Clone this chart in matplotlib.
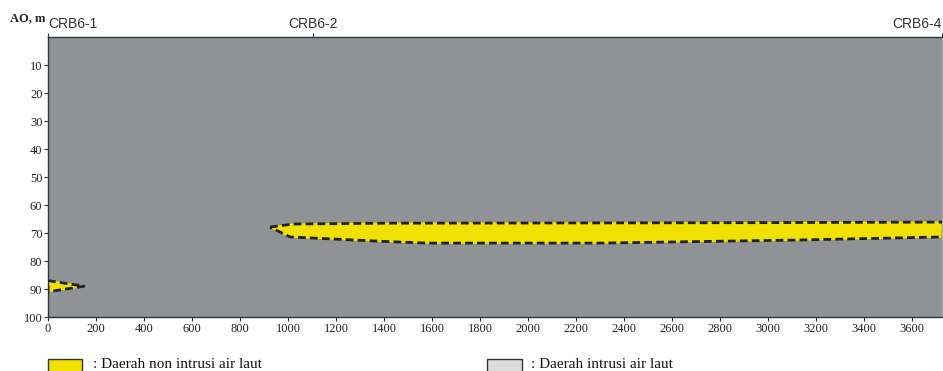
import numpy as np
import matplotlib.pyplot as plt
from matplotlib.patches import Rectangle

wells = ['CRB6-1', 'CRB6-2', 'CRB6-4']
well_x = [0, 1105, 3725]

# main lens (non intrusion zone), outline going over the top then back along bottom
lens_top_x = [925, 1020, 1400, 2300, 3000, 3730]
lens_top_y = [67.9, 66.8, 66.5, 66.4, 66.3, 66.1]
lens_bot_x = [3730, 3130, 2300, 1580, 1370, 1008]
lens_bot_y = [71.4, 72.5, 73.6, 73.6, 72.9, 71.4]

# small wedge at CRB6-1
wedge_x = [0, 150, 0]
wedge_y = [87.0, 89.0, 91.0]

xticks = np.arange(0, 3601, 200)
yticks = np.arange(10, 101, 10)

legend_labels = [': Daerah non intrusi air laut', ': Daerah intrusi air laut']

gray = '#909396'
yellow = '#f0e100'

fig = plt.figure(figsize=(9.43, 3.71), dpi=100)
ax = fig.add_axes([48/943, 1-317/371, 894/943, 280/371])
ax.set_facecolor(gray)

lx = lens_top_x + lens_bot_x + [lens_top_x[0]]
ly = lens_top_y + lens_bot_y + [lens_top_y[0]]
ax.fill(lx, ly, color=yellow, zorder=2)
ax.plot(lx, ly, color='#222222', lw=2, ls=(0, (2.8, 1.5)), zorder=3)

wx = wedge_x + [wedge_x[0]]
wy = wedge_y + [wedge_y[0]]
ax.fill(wx, wy, color=yellow, zorder=2)
ax.plot(wx, wy, color='#222222', lw=2, ls=(0, (2.8, 1.5)), zorder=3)

ax.set_xlim(0, 3725)
ax.set_ylim(100, 0)
ax.set_xticks(xticks)
ax.set_yticks(yticks)
ax.tick_params(axis='both', labelsize=9, length=3, width=0.8, colors='#333333', pad=1)
for lab in ax.get_xticklabels() + ax.get_yticklabels():
    lab.set_fontfamily('Liberation Serif')
    lab.set_color('#222222')

for s in ['left', 'bottom', 'top']:
    ax.spines[s].set_color('#333333')
    ax.spines[s].set_linewidth(1)
ax.spines['right'].set_color('#aaaaaa')

# well names on top
sec = ax.secondary_xaxis('top')
sec.set_xticks(well_x)
sec.set_xticklabels(wells, fontsize=10, fontfamily='Liberation Sans', color='#333333')
sec.tick_params(length=3, width=0.8, pad=1, colors='#333333')
labs = sec.get_xticklabels()
labs[0].set_ha('left')
labs[-1].set_ha('right')
sec.spines['top'].set_visible(False)

fig.text(10/943, 1-18/371, 'AO, m', fontsize=9, fontweight='bold',
         fontfamily='Liberation Serif', va='center', color='#222222')

# legend boxes at the bottom (cut by the figure edge)
fig.patches.append(Rectangle((48/943, -0.01), 34/943, 16/371, transform=fig.transFigure,
                             facecolor=yellow, edgecolor='#333333', lw=1))
fig.patches.append(Rectangle((487/943, -0.01), 35/943, 16/371, transform=fig.transFigure,
                             facecolor='#dcdcdc', edgecolor='#333333', lw=1))
fig.text(93/943, 1-364/371, legend_labels[0], fontsize=11,
         fontfamily='Liberation Serif', va='center', color='#111111')
fig.text(531/943, 1-364/371, legend_labels[1], fontsize=11,
         fontfamily='Liberation Serif', va='center', color='#111111')

fig.savefig('out.png', dpi=100)
